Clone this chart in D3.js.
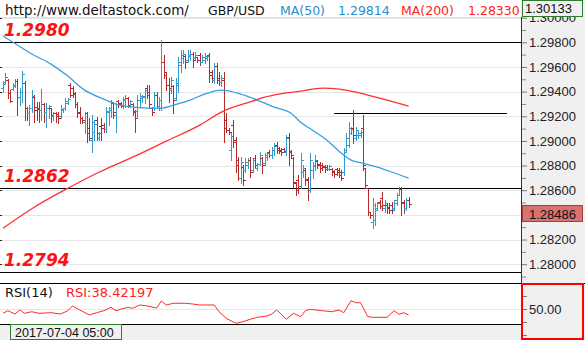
<!DOCTYPE html>
<html>
<head>
<meta charset="utf-8">
<script src="https://cdn.jsdelivr.net/npm/d3@7"></script>
<style>
  body { margin: 0; background: #fff; }
  svg { display: block; }
</style>
</head>
<body>
<script>
// ---- header texts ----
const siteText = "http://www.deltastock.com/";
const symbolText = "GBP/USD";
const ma50Text = ["MA(50)", "1.29814"];
const ma200Text = ["MA(200)", "1.28330"];
const topPriceText = "1.30133";
const rsiTitle = "RSI(14)";
const rsiValueText = "RSI:38.42197";
const startTimeText = "2017-07-04 05:00";

// ---- hourly GBP/USD bars: [open, high, low, close] ----
const bars = [
  [1.29428,1.29485,1.29396,1.29461],[1.29477,1.29550,1.29469,1.29518],[1.29493,1.29502,1.29347,1.29388],[1.29388,1.29412,1.29315,1.29323],
  [1.29420,1.29469,1.29412,1.29453],[1.29445,1.29502,1.29437,1.29485],[1.29485,1.29502,1.29209,1.29355],[1.29355,1.29428,1.29290,1.29396],
  [1.29396,1.29566,1.29315,1.29542],[1.29469,1.29485,1.29169,1.29266],[1.29266,1.29274,1.29169,1.29225],[1.29225,1.29290,1.29128,1.29266],
  [1.29266,1.29412,1.29234,1.29363],[1.29355,1.29372,1.29152,1.29250],[1.29274,1.29315,1.29169,1.29258],[1.29266,1.29315,1.29152,1.29250],
  [1.29250,1.29420,1.29169,1.29299],[1.29299,1.29307,1.29152,1.29234],[1.29234,1.29307,1.29112,1.29266],[1.29266,1.29290,1.29185,1.29282],
  [1.29266,1.29266,1.29152,1.29209],[1.29201,1.29234,1.29169,1.29225],[1.29225,1.29234,1.29152,1.29201],[1.29217,1.29234,1.29144,1.29185],
  [1.29201,1.29290,1.29185,1.29258],[1.29250,1.29266,1.29234,1.29266],[1.29266,1.29347,1.29250,1.29323],[1.29307,1.29347,1.29299,1.29339],
  [1.29453,1.29469,1.29355,1.29372],[1.29428,1.29445,1.29355,1.29380],[1.29388,1.29396,1.29274,1.29299],[1.29299,1.29315,1.29193,1.29225],
  [1.29234,1.29274,1.29144,1.29185],[1.29185,1.29193,1.29144,1.29169],[1.29152,1.29234,1.29063,1.29225],[1.29225,1.29234,1.28990,1.29063],
  [1.29104,1.29185,1.29006,1.29022],[1.29006,1.29209,1.28909,1.29152],[1.29071,1.29169,1.29006,1.29136],[1.29169,1.29193,1.29006,1.29063],
  [1.29022,1.29071,1.29006,1.29063],[1.29120,1.29185,1.29006,1.29104],[1.29128,1.29144,1.29071,1.29096],[1.29096,1.29274,1.29071,1.29242],
  [1.29234,1.29274,1.29128,1.29266],[1.29250,1.29331,1.29193,1.29315],[1.29307,1.29315,1.29185,1.29234],[1.29209,1.29307,1.29071,1.29299],
  [1.29323,1.29331,1.29274,1.29299],[1.29307,1.29315,1.29274,1.29282],[1.29290,1.29355,1.29266,1.29339],[1.29331,1.29372,1.29274,1.29347],
  [1.29347,1.29355,1.29274,1.29290],[1.29282,1.29331,1.29274,1.29323],[1.29299,1.29307,1.29209,1.29234],[1.29242,1.29250,1.29071,1.29185],
  [1.29242,1.29372,1.29185,1.29331],[1.29331,1.29388,1.29274,1.29363],[1.29347,1.29372,1.29315,1.29363],[1.29355,1.29428,1.29307,1.29412],
  [1.29428,1.29453,1.29347,1.29372],[1.29396,1.29453,1.29266,1.29299],[1.29266,1.29274,1.29209,1.29234],[1.29266,1.29396,1.29250,1.29372],
  [1.29372,1.29396,1.29266,1.29282],[1.29282,1.29355,1.29250,1.29331],[1.29266,1.29818,1.29250,1.29640],[1.29640,1.29696,1.29510,1.29558],
  [1.29534,1.29550,1.29412,1.29453],[1.29453,1.29510,1.29315,1.29428],[1.29412,1.29518,1.29388,1.29493],[1.29445,1.29453,1.29225,1.29331],
  [1.29347,1.29510,1.29331,1.29469],[1.29453,1.29680,1.29396,1.29640],[1.29615,1.29737,1.29558,1.29696],[1.29672,1.29737,1.29631,1.29705],
  [1.29688,1.29696,1.29591,1.29640],[1.29656,1.29737,1.29640,1.29696],[1.29688,1.29737,1.29656,1.29705],[1.29705,1.29721,1.29599,1.29656],
  [1.29672,1.29721,1.29656,1.29696],[1.29680,1.29680,1.29640,1.29656],[1.29696,1.29713,1.29615,1.29640],[1.29640,1.29696,1.29640,1.29680],
  [1.29656,1.29713,1.29631,1.29688],[1.29672,1.29696,1.29656,1.29688],[1.29696,1.29713,1.29477,1.29534],[1.29558,1.29575,1.29477,1.29510],
  [1.29493,1.29631,1.29469,1.29607],[1.29607,1.29631,1.29469,1.29493],[1.29510,1.29558,1.29453,1.29477],[1.29477,1.29534,1.29445,1.29510],
  [1.29493,1.29558,1.28990,1.29104],[1.29169,1.29225,1.29071,1.29087],[1.29087,1.29104,1.29055,1.29071],[1.28925,1.29063,1.28844,1.29039],
  [1.29128,1.29169,1.28949,1.28990],[1.29006,1.29031,1.28746,1.28803],[1.28844,1.28868,1.28681,1.28698],[1.28698,1.28868,1.28657,1.28828],
  [1.28787,1.28803,1.28641,1.28681],[1.28763,1.28860,1.28746,1.28828],[1.28803,1.28860,1.28779,1.28844],[1.28844,1.28868,1.28706,1.28746],
  [1.28763,1.28860,1.28746,1.28844],[1.28860,1.28884,1.28779,1.28803],[1.28779,1.28819,1.28763,1.28811],[1.28811,1.28909,1.28803,1.28884],
  [1.28860,1.28868,1.28738,1.28803],[1.28819,1.28901,1.28803,1.28884],[1.28868,1.28909,1.28844,1.28901],[1.28909,1.28925,1.28868,1.28884],
  [1.28884,1.28949,1.28860,1.28925],[1.28925,1.28982,1.28884,1.28957],[1.28966,1.28990,1.28901,1.28925],[1.28941,1.28949,1.28901,1.28917],
  [1.28925,1.28941,1.28884,1.28909],[1.28933,1.28941,1.28909,1.28917],[1.28909,1.29047,1.28884,1.29022],[1.29031,1.29063,1.28803,1.28909],
  [1.28917,1.28925,1.28868,1.28884],[1.28860,1.28868,1.28616,1.28665],[1.28657,1.28665,1.28560,1.28600],[1.28681,1.28722,1.28576,1.28633],
  [1.28633,1.28901,1.28616,1.28844],[1.28746,1.28803,1.28706,1.28779],[1.28763,1.28779,1.28641,1.28681],[1.28690,1.28706,1.28519,1.28600],
  [1.28616,1.28901,1.28584,1.28844],[1.28763,1.28828,1.28698,1.28803],[1.28795,1.28884,1.28763,1.28844],[1.28836,1.28844,1.28779,1.28803],
  [1.28811,1.28828,1.28746,1.28779],[1.28803,1.28819,1.28763,1.28787],[1.28795,1.28803,1.28746,1.28771],[1.28787,1.28803,1.28763,1.28771],
  [1.28771,1.28803,1.28763,1.28795],[1.28771,1.28779,1.28722,1.28746],[1.28754,1.28763,1.28706,1.28730],[1.28771,1.28779,1.28722,1.28746],
  [1.28763,1.28779,1.28706,1.28722],[1.28746,1.28763,1.28681,1.28698],[1.28746,1.28941,1.28722,1.28909],[1.28925,1.29063,1.28909,1.29022],
  [1.28966,1.29152,1.28949,1.29104],[1.29063,1.29112,1.29055,1.29096],[1.29104,1.29250,1.28982,1.29047],[1.29022,1.29112,1.29006,1.29087],
  [1.29047,1.29087,1.29022,1.29063],[1.29047,1.29087,1.29031,1.29071],[1.29104,1.29209,1.28763,1.28803],[1.28779,1.28779,1.28616,1.28641],
  [1.28616,1.28616,1.28397,1.28422],[1.28422,1.28422,1.28373,1.28397],[1.28340,1.28535,1.28292,1.28478],[1.28357,1.28495,1.28316,1.28438],
  [1.28454,1.28503,1.28438,1.28495],[1.28503,1.28519,1.28454,1.28470],[1.28535,1.28584,1.28438,1.28478],[1.28454,1.28519,1.28422,1.28495],
  [1.28478,1.28495,1.28413,1.28454],[1.28462,1.28495,1.28413,1.28438],[1.28478,1.28503,1.28413,1.28438],[1.28454,1.28519,1.28438,1.28495],
  [1.28519,1.28576,1.28478,1.28560],[1.28560,1.28625,1.28560,1.28608],[1.28608,1.28625,1.28397,1.28495],[1.28503,1.28519,1.28413,1.28454],
  [1.28454,1.28535,1.28438,1.28519],[1.28519,1.28543,1.28462,1.28486]
];
const lastPrice = 1.28486;

// ---- moving averages: [bar index, value] ----
const ma50 = [
  [0,1.29851],[6,1.29778],[12,1.29705],[20,1.29623],[27,1.29526],[34,1.29412],[42,1.29339],[47,1.29299],
  [55,1.29274],[61,1.29266],[66,1.29266],[71,1.29290],[78,1.29331],[84,1.29380],[91,1.29412],[99,1.29380],
  [106,1.29331],[113,1.29274],[120,1.29225],[124,1.29152],[129,1.29087],[135,1.29006],[140,1.28917],[145,1.28844],
  [150,1.28819],[156,1.28787],[161,1.28754],[169,1.28698]
];
const ma200 = [
  [0,1.28292],[13,1.28462],[27,1.28616],[40,1.28746],[54,1.28868],[68,1.28998],[82,1.29128],[91,1.29234],
  [104,1.29323],[109,1.29355],[115,1.29380],[124,1.29404],[133,1.29428],[140,1.29420],[147,1.29396],[157,1.29347],[169,1.29282]
];

// ---- RSI(14): [bar index, value] ----
const rsi = [
  [0,41.7],[2,46.7],[5,40.4],[7,48.1],[9,41.7],[12,44.8],[15,41.7],[20,42.9],[24,40.4],[27,46.7],[29,55.8],[32,48.1],
  [36,38.5],[39,42.9],[42,46.7],[45,53.3],[47,46.7],[49,49.4],[52,53.3],[54,51.3],[57,57.7],[60,55.8],[64,51.9],[66,65.4],
  [68,57.7],[71,61.0],[76,61.0],[79,59.6],[82,57.7],[88,57.7],[90,44.8],[93,32.1],[97,22.5],[100,25.6],[103,30.2],[106,34.0],
  [110,36.5],[112,40.4],[114,48.1],[116,39.8],[118,30.2],[121,41.7],[124,35.2],[126,46.7],[128,49.4],[133,46.7],[137,44.8],[140,48.1],
  [142,42.9],[145,66.0],[147,62.1],[149,62.1],[152,35.2],[154,34.0],[160,34.0],[163,46.7],[165,39.8],[167,42.9],[169,38.42]
];

// ---- drawn price levels ----
const levelValues = [1.2980, 1.2862, 1.2794];
const levelLabels = ["1.2980", "1.2862", "1.2794"];
const shortLevel = [1.29224, 138, 210];       // value, from bar, to bar
const priceTicks = d3.range(0, 11).map(k => +(1.280 + k * 0.002).toFixed(3));
const minorTicks = d3.range(0, 21).map(k => +(1.279 + k * 0.002).toFixed(3));
const rsiTicks = [0, 25, 50, 75, 100];

// ---- layout ----
const W = 585, H = 340;
const plotR = 521, topY = 17, priceBot = 283, rsiBot = 324;
const upColor = "#3399cc", downColor = "#b22a2a";
const blueText = "#2a8ccc", redText = "#ff2222";

const svg = d3.select("body").append("svg").attr("width", W).attr("height", H)
  .style("font-family", "'DejaVu Sans', sans-serif");

const x = d3.scaleLinear().domain([0, bars.length - 1]).range([3, 408.6]);
const y = d3.scaleLinear().domain([1.280, 1.298]).range([264.2, 42.3]);
const yr = d3.scaleLinear().domain([0, 100]).range([335, 283]);
const cx = v => Math.round(v) + 0.5;

svg.append("rect").attr("width", W).attr("height", H).attr("fill", "#fff");

// right axis background
svg.append("rect").attr("x", plotR).attr("y", 0).attr("width", W - plotR).attr("height", H).attr("fill", "#f0f0f0");
// time strip
svg.append("rect").attr("x", 0).attr("y", rsiBot).attr("width", plotR).attr("height", H - rsiBot).attr("fill", "#f0f0f0");

const defs = svg.append("defs");
defs.append("clipPath").attr("id", "pclip").append("rect")
  .attr("x", 0).attr("y", topY).attr("width", plotR).attr("height", priceBot - topY);
defs.append("clipPath").attr("id", "rclip").append("rect")
  .attr("x", 0).attr("y", priceBot).attr("width", plotR).attr("height", rsiBot - priceBot);
defs.append("clipPath").attr("id", "aclip").append("rect")
  .attr("x", plotR).attr("y", topY).attr("width", W - plotR).attr("height", priceBot - topY);

// grid lines
svg.append("g").selectAll("line").data(priceTicks).join("line")
  .attr("x1", 0).attr("x2", plotR).attr("y1", d => cx(y(d))).attr("y2", d => cx(y(d)))
  .attr("stroke", "#e6e6e6");
svg.append("g").selectAll("line").data(priceTicks).join("line")
  .attr("x1", 0).attr("x2", 2).attr("y1", d => cx(y(d))).attr("y2", d => cx(y(d)))
  .attr("stroke", "#222");
svg.append("line").attr("x1", 0).attr("x2", plotR).attr("y1", cx(yr(50))).attr("y2", cx(yr(50)))
  .attr("stroke", "#e6e6e6");
svg.append("line").attr("x1", 0).attr("x2", plotR).attr("y1", topY + 0.5).attr("y2", topY + 0.5)
  .attr("stroke", "#e0e0e0");

// level lines
svg.append("g").selectAll("line").data(levelValues).join("line")
  .attr("x1", 0).attr("x2", plotR).attr("y1", d => cx(y(d))).attr("y2", d => cx(y(d)))
  .attr("stroke", "#000");
svg.append("line").attr("x1", x(shortLevel[1])).attr("x2", x(shortLevel[2]))
  .attr("y1", cx(y(shortLevel[0]))).attr("y2", cx(y(shortLevel[0]))).attr("stroke", "#000");

// level labels
svg.append("g").selectAll("text").data(levelValues).join("text")
  .attr("x", 4).attr("y", d => y(d) - 6)
  .attr("fill", "#ff1111").attr("font-size", 17).attr("font-weight", "bold").attr("font-style", "italic")
  .text((d, i) => levelLabels[i]);

// OHLC bars
const bg = svg.append("g").attr("clip-path", "url(#pclip)");
const barData = bars.map((b, i) => ({ i, o: b[0], h: b[1], l: b[2], c: b[3] }));
const bar = bg.selectAll("g").data(barData).join("g")
  .attr("stroke", d => d.c >= d.o ? upColor : downColor).attr("stroke-width", 1);
bar.append("line")
  .attr("x1", d => cx(x(d.i))).attr("x2", d => cx(x(d.i)))
  .attr("y1", d => Math.round(y(d.h))).attr("y2", d => Math.round(y(d.l)) + 1);
bar.append("line")
  .attr("x1", d => Math.round(x(d.i)) - 2).attr("x2", d => Math.round(x(d.i)))
  .attr("y1", d => cx(y(d.o))).attr("y2", d => cx(y(d.o)));
bar.append("line")
  .attr("x1", d => Math.round(x(d.i)) + 1).attr("x2", d => Math.round(x(d.i)) + 3)
  .attr("y1", d => cx(y(d.c))).attr("y2", d => cx(y(d.c)));

// moving averages
const maLine = d3.line().x(d => x(d[0])).y(d => y(d[1])).curve(d3.curveMonotoneX);
bg.append("path").datum(ma50).attr("d", maLine).attr("fill", "none").attr("stroke", "#3a9ee0").attr("stroke-width", 1.3);
bg.append("path").datum(ma200).attr("d", maLine).attr("fill", "none").attr("stroke", "#ff3030").attr("stroke-width", 1.3);

// RSI
const rsiLine = d3.line().x(d => x(d[0])).y(d => yr(d[1]));
svg.append("g").attr("clip-path", "url(#rclip)").append("path").datum(rsi)
  .attr("d", rsiLine).attr("fill", "none").attr("stroke", "#ff2a2a").attr("stroke-width", 1);

// panel borders
svg.append("line").attr("x1", 0).attr("x2", W).attr("y1", priceBot + 0.5).attr("y2", priceBot + 0.5).attr("stroke", "#000");
svg.append("line").attr("x1", 0).attr("x2", plotR).attr("y1", rsiBot + 0.5).attr("y2", rsiBot + 0.5).attr("stroke", "#000");
svg.append("line").attr("x1", plotR + 0.5).attr("x2", plotR + 0.5).attr("y1", topY).attr("y2", priceBot).attr("stroke", "#333");

// price axis (clipped below the top price box)
const axisFont = "'Liberation Sans', Arial, sans-serif";
const axWrap = svg.append("g").attr("clip-path", "url(#aclip)");
const ax = axWrap.append("g").attr("transform", `translate(${plotR + 1},0)`)
  .call(d3.axisRight(y).tickValues(priceTicks).tickFormat(d3.format(".5f")).tickSize(5).tickPadding(2));
ax.select(".domain").remove();
ax.selectAll("line").attr("stroke", "#777");
ax.selectAll("text").attr("font-family", axisFont).attr("font-size", 13).attr("fill", "#222");
const axm = axWrap.append("g").attr("transform", `translate(${plotR + 1},0)`)
  .call(d3.axisRight(y).tickValues(minorTicks).tickFormat("").tickSize(4));
axm.select(".domain").remove();
axm.selectAll("line").attr("stroke", "#888");

// top price box
svg.append("rect").attr("x", 522.5).attr("y", 0.5).attr("width", 60).attr("height", 16)
  .attr("fill", "#f0f0f0").attr("stroke", "#2d7d2d");
svg.append("text").attr("x", 525).attr("y", 13).attr("font-family", axisFont).attr("font-size", 13)
  .attr("fill", "#111").text(topPriceText);

// last price box
const lpY = Math.round(y(lastPrice)) + 1.5;
svg.append("rect").attr("x", 522.5).attr("y", lpY).attr("width", 60).attr("height", 16)
  .attr("fill", "#d97372").attr("stroke", "#a83b3b");
svg.append("text").attr("x", 529).attr("y", lpY + 13).attr("font-family", axisFont).attr("font-size", 13)
  .attr("fill", "#111").text(d3.format(".5f")(lastPrice));

// RSI axis box
const rax = svg.append("g").attr("transform", `translate(${plotR + 1},0)`)
  .call(d3.axisRight(yr).tickValues(rsiTicks).tickFormat(d => d === 50 ? d3.format(".2f")(d) : "").tickSize(5).tickPadding(2));
rax.select(".domain").remove();
rax.selectAll("line").attr("stroke", "#777");
rax.selectAll("text").attr("font-family", axisFont).attr("font-size", 13).attr("fill", "#222");
svg.append("rect").attr("x", plotR + 1).attr("y", priceBot + 1).attr("width", W - plotR - 3).attr("height", H - priceBot - 2)
  .attr("fill", "none").attr("stroke", "#ff0000").attr("stroke-width", 2);

// header
const hdr = svg.append("g").attr("font-size", 12.5);
hdr.append("text").attr("x", 5).attr("y", 14.5).attr("font-size", 13.4).attr("fill", "#111").text(siteText);
hdr.append("text").attr("x", 208).attr("y", 14.5).attr("fill", "#111").text(symbolText);
hdr.append("text").attr("x", 280).attr("y", 14.5).attr("fill", blueText).text(ma50Text[0]);
hdr.append("text").attr("x", 338).attr("y", 14.5).attr("fill", blueText).text(ma50Text[1]);
hdr.append("text").attr("x", 401).attr("y", 14.5).attr("fill", redText).text(ma200Text[0]);
hdr.append("text").attr("x", 468).attr("y", 14.5).attr("fill", redText).text(ma200Text[1]);

// RSI header
svg.append("text").attr("x", 5).attr("y", 297).attr("font-size", 13).attr("fill", "#111").text(rsiTitle);
svg.append("text").attr("x", 66).attr("y", 297).attr("font-size", 13).attr("fill", redText).text(rsiValueText);

// time label
svg.append("rect").attr("x", 10.5).attr("y", rsiBot + 0.5).attr("width", 111).attr("height", 15)
  .attr("fill", "#f0f0f0").attr("stroke", "#2d7d2d");
svg.append("text").attr("x", 15).attr("y", 337).attr("font-family", axisFont).attr("font-size", 12.5)
  .attr("fill", "#111").text(startTimeText);
</script>
</body>
</html>
